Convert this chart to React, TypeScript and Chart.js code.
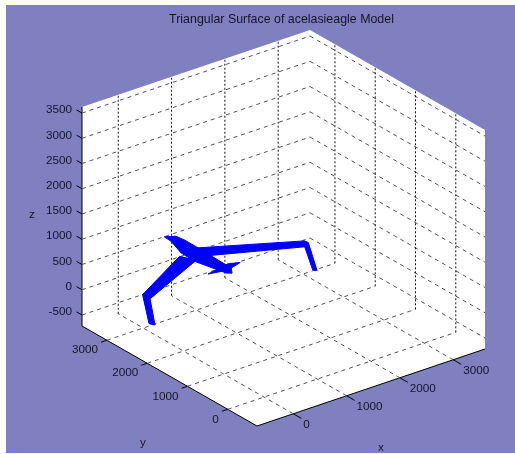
import React, { useEffect, useRef } from "react";
import { Chart, registerables } from "chart.js";

Chart.register(...registerables);

const titleText = "Triangular Surface of acelasieagle Model";
const xTicks = [0, 1000, 2000, 3000];
const yTicks = [0, 1000, 2000, 3000];
const zTicks = [-500, 0, 500, 1000, 1500, 2000, 2500, 3000, 3500];
const xLim = [-680, 3597];
const yLim = [-725, 3619];
const zLim = [-718, 3620];

type V = [number, number, number];

const fuselage: V[] = [[861, 3615, 500], [1012, 3525, 500], [1035, 3332, 500], [1031, 2926, 500], [1006, 2144, 500], [911, 2000, 500], [845, 2053, 500], [713, 2668, 500], [728, 3021, 500], [850, 3434, 500]];
const rightWing: V[] = [[1006, 3019, 500], [2429, 2214, 500], [2344, 2033, 500], [986, 2700, 500]];
const leftWing: V[] = [[640, 2944, 500], [-587, 2238, 500], [-615, 2041, 500], [753, 2680, 500]];
const rightWinglet: V[] = [[2429, 2214, 500], [2441, 2131, 500], [2455, 1932, 30], [2418, 1991, 30], [2359, 2137, 500]];
const leftWinglet: V[] = [[-587, 2238, 500], [-589, 2050, 500], [-578, 1941, 30], [-621, 2033, 30]];
const tailplane: V[] = [[609, 2196, 500], [1056, 2294, 500], [1228, 2216, 500], [966, 2132, 500], [820, 2145, 500]];
const modelParts = [fuselage, rightWing, leftWing, rightWinglet, leftWinglet, tailplane];

const W = 515;
const H = 454;
const FRONT = [257, 426];
const RIGHT = [485, 349];
const LEFT = [82, 326];
const Z_PX = 219;

function project([x, y, z]: V) {
  const u = (x - xLim[0]) / (xLim[1] - xLim[0]);
  const v = (y - yLim[0]) / (yLim[1] - yLim[0]);
  const w = (z - zLim[0]) / (zLim[1] - zLim[0]);
  return {
    x: FRONT[0] + u * (RIGHT[0] - FRONT[0]) + v * (LEFT[0] - FRONT[0]),
    y: FRONT[1] + u * (RIGHT[1] - FRONT[1]) + v * (LEFT[1] - FRONT[1]) - w * Z_PX,
  };
}

const GAP = { x: NaN, y: NaN };
const segs = (list: [V, V][]) => list.flatMap(([a, b]) => [project(a), project(b), GAP]);
const [x0, x1] = xLim;
const [y0, y1] = yLim;
const [z0, z1] = zLim;

const verticalGrid: [V, V][] = [
  ...xTicks.map((t): [V, V] => [[t, y1, z0], [t, y1, z1]]),
  ...yTicks.map((t): [V, V] => [[x1, t, z0], [x1, t, z1]]),
];
const slantedGrid: [V, V][] = [
  ...xTicks.map((t): [V, V] => [[t, y0, z0], [t, y1, z0]]),
  ...yTicks.map((t): [V, V] => [[x0, t, z0], [x1, t, z0]]),
  ...zTicks.flatMap((t): [V, V][] => [[[x0, y1, t], [x1, y1, t]], [[x1, y1, t], [x1, y0, t]]]),
];
const axisSegments: [V, V][] = [
  [[x0, y1, z0], [x0, y1, z1]],
  [[x0, y1, z0], [x0, y0, z0]],
  [[x0, y0, z0], [x1, y0, z0]],
  ...zTicks.map((t): [V, V] => [[x0, y1, t], [x0, y1 + 135, t]]),
  ...xTicks.map((t): [V, V] => [[t, y0, z0], [t, y0 - 200, z0]]),
  ...yTicks.map((t): [V, V] => [[x0, t, z0], [x0 - 110, t, z0]]),
];
const wall: V[] = [[x0, y1, z0], [x0, y1, z1], [x1, y1, z1], [x1, y0, z1], [x1, y0, z0], [x0, y0, z0]];
const closed = (p: V[]) => [...p, p[0]].map(project);

const textPlugin = {
  id: "texts",
  beforeDraw(chart: any) {
    const c = chart.ctx;
    c.save();
    c.fillStyle = "#ffffff";
    c.fillRect(0, 0, W, H);
    c.fillStyle = "#8080c0";
    c.fillRect(6, 5, W - 6, 448);
    c.restore();
  },
  afterDraw(chart: any) {
    const c = chart.ctx;
    c.save();
    c.fillStyle = "#14142a";
    c.font = "11.7px 'Liberation Sans'";
    c.textBaseline = "middle";
    c.textAlign = "right";
    for (const t of zTicks) {
      const p = project([x0, y1, t]);
      c.fillText(String(t), p.x - 10, p.y - 3);
    }
    for (const t of yTicks) {
      const p = project([x0, t, z0]);
      c.fillText(String(t), p.x - 9, p.y + 10);
    }
    c.textAlign = "left";
    for (const t of xTicks) {
      const p = project([t, y0, z0]);
      c.fillText(String(t), p.x + 10, p.y + 11);
    }
    c.textAlign = "center";
    c.fillText("z", 32, 215);
    c.fillText("y", 143, 443);
    c.fillText("x", 381, 448);
    c.font = "12.4px 'Liberation Sans'";
    c.fillText(titleText, 281.5, 20);
    c.restore();
  },
};

export default function App() {
  const ref = useRef<HTMLCanvasElement>(null);
  useEffect(() => {
    document.body.style.margin = "0";
    const line = { showLine: true, pointRadius: 0, fill: false, tension: 0 };
    const chart = new Chart(ref.current!, {
      type: "scatter",
      data: {
        datasets: [
          ...modelParts.map((p, i) => ({
            ...line,
            label: "model " + i,
            data: closed(p),
            fill: "shape",
            backgroundColor: "#0000ff",
            borderColor: "#0000ff",
            borderWidth: 1,
            order: 1,
          })),
          {
            ...line,
            label: "vertical grid",
            data: segs(verticalGrid),
            borderColor: "#111111",
            borderWidth: 1,
            borderDash: [2, 2],
            order: 2,
          },
          {
            ...line,
            label: "slanted grid",
            data: segs(slantedGrid),
            borderColor: "#555555",
            borderWidth: 1,
            borderDash: [4, 4],
            order: 2,
          },
          {
            ...line,
            label: "axes",
            data: segs(axisSegments),
            borderColor: "#000000",
            borderWidth: 1,
            order: 2,
          },
          {
            ...line,
            label: "walls",
            data: closed(wall),
            fill: "shape",
            backgroundColor: "#ffffff",
            borderColor: "#ffffff",
            borderWidth: 0,
            order: 3,
          },
        ] as any,
      },
      options: {
        animation: false,
        responsive: false,
        layout: { padding: 0 },
        plugins: { legend: { display: false }, tooltip: { enabled: false }, title: { display: false } },
        scales: {
          x: { type: "linear", display: false, min: 0, max: W },
          y: { type: "linear", display: false, min: 0, max: H, reverse: true },
        },
      },
      plugins: [textPlugin],
    });
    return () => chart.destroy();
  }, []);
  return <canvas ref={ref} width={W} height={H} style={{ display: "block" }} />;
}
